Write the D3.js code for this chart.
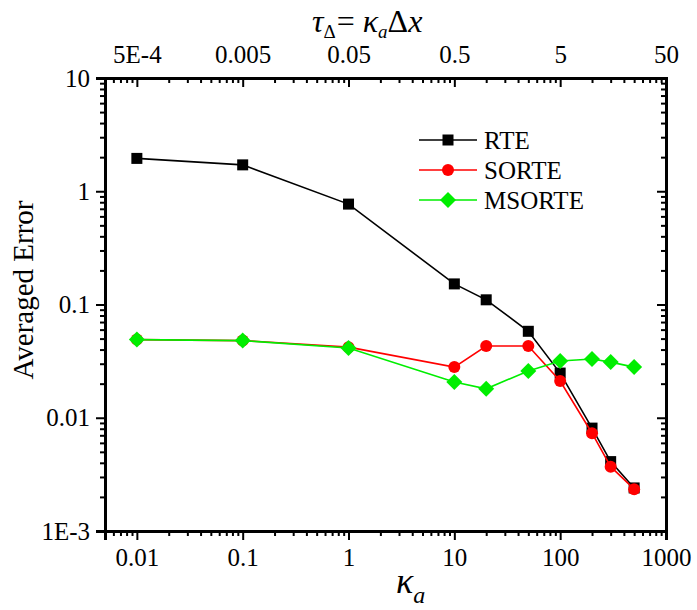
<!DOCTYPE html>
<html>
<head>
<meta charset="utf-8">
<script src="https://cdn.jsdelivr.net/npm/d3@7"></script>
<style>
  html, body { margin: 0; padding: 0; background: #fff; }
  svg, svg text { font-family: "Liberation Serif", "Times New Roman", serif !important; }
</style>
</head>
<body>
<svg id="chart" width="697" height="610"></svg>
<script>
// absorption coefficient values (bottom axis)
const kappa = [0.01, 0.1, 1, 10, 20, 50, 100, 200, 300, 500];
// averaged error for each solver
const rte    = [1.95, 1.71, 0.77, 0.152, 0.11, 0.058, 0.0248, 0.0081, 0.0041, 0.0024];
const sorte  = [0.049, 0.048, 0.042, 0.028, 0.043, 0.043, 0.0211, 0.0073, 0.0037, 0.00234];
const msorte = [0.049, 0.048, 0.0413, 0.0207, 0.018, 0.0259, 0.0317, 0.033, 0.031, 0.028];
// axis tick values and labels
const xMajor = [0.01, 0.1, 1, 10, 100, 1000];
const xLabels = ["0.01", "0.1", "1", "10", "100", "1000"];
const topLabels = ["5E-4", "0.005", "0.05", "0.5", "5", "50"];
const yMajor = [0.001, 0.01, 0.1, 1, 10];
const yLabels = ["1E-3", "0.01", "0.1", "1", "10"];
const seriesNames = ["RTE", "SORTE", "MSORTE"];
const seriesColors = ["#000000", "#ff0000", "#00ee00"];

const svg = d3.select("#chart");
const L = 105, R = 666, T = 78, B = 531;

const x = d3.scaleLog().domain([0.005, 1000]).range([L, R]);
const y = d3.scaleLog().domain([0.001, 10]).range([B, T]);

// minor tick values: 2..9 in each decade inside the domain
function minors(domain) {
  const out = [];
  for (let e = -4; e <= 3; e++) {
    for (let m = 2; m <= 9; m++) {
      const v = m * Math.pow(10, e);
      if (v > domain[0] * 1.0001 && v < domain[1] * 0.9999) out.push(v);
    }
  }
  return out;
}
const xMinor = minors(x.domain());
const yMinor = minors(y.domain());

const fmtMap = (vals, labs) => d => labs[vals.indexOf(d)];

// bottom axis: ticks outward
const gB = svg.append("g").attr("transform", `translate(0,${B})`);
gB.call(d3.axisBottom(x).tickValues(xMinor).tickSize(5).tickFormat(""));
gB.append("g").call(d3.axisBottom(x).tickValues(xMajor).tickSize(9).tickPadding(8).tickFormat(fmtMap(xMajor, xLabels)));
// top axis: ticks inward
const gT = svg.append("g").attr("transform", `translate(0,${T})`);
gT.call(d3.axisTop(x).tickValues(xMinor).tickSize(-5).tickFormat(""));
gT.append("g").call(d3.axisTop(x).tickValues(xMajor).tickSize(-9).tickPadding(15).tickFormat(fmtMap(xMajor, topLabels)));
// left axis: ticks outward
const gL = svg.append("g").attr("transform", `translate(${L},0)`);
gL.call(d3.axisLeft(y).tickValues(yMinor).tickSize(5).tickFormat(""));
gL.append("g").call(d3.axisLeft(y).tickValues(yMajor).tickSize(9).tickPadding(6).tickFormat(fmtMap(yMajor, yLabels)));
// right axis: ticks inward
const gR = svg.append("g").attr("transform", `translate(${R},0)`);
gR.call(d3.axisRight(y).tickValues(yMinor).tickSize(-5).tickFormat(""));
gR.append("g").call(d3.axisRight(y).tickValues(yMajor).tickSize(-9).tickFormat(""));

svg.selectAll(".domain").attr("stroke", "#000").attr("stroke-width", 3);
svg.selectAll(".tick line").attr("stroke", "#000").attr("stroke-width", 2);
svg.selectAll("g").attr("font-family", null);
svg.selectAll(".tick text").attr("font-size", 25).attr("fill", "#000");

// axis titles
svg.append("text")
  .attr("transform", "translate(33,290) rotate(-90)")
  .attr("text-anchor", "middle")
  .attr("font-size", 29)
  .text("Averaged Error");

const bt = svg.append("text").attr("x", 396).attr("y", 593).attr("font-size", 36).attr("font-style", "italic");
bt.append("tspan").text("κ");
bt.append("tspan").attr("font-size", 24).attr("dy", 10).text("a");

const tt = svg.append("text").attr("x", 312).attr("y", 32).attr("font-size", 32);
tt.append("tspan").attr("font-style", "italic").text("τ");
tt.append("tspan").attr("font-size", 19).attr("dy", 6).text("Δ");
tt.append("tspan").attr("dy", -6).attr("dx", 1).text("= ");
tt.append("tspan").attr("font-style", "italic").text("κ");
tt.append("tspan").attr("font-size", 19).attr("font-style", "italic").attr("dy", 6).text("a");
tt.append("tspan").attr("dy", -6).text("Δ");
tt.append("tspan").attr("font-style", "italic").text("x");

// series
const series = [rte, sorte, msorte];
const line = d3.line().x(d => x(d[0])).y(d => y(d[1]));

function drawMarker(g, kind, cx, cy, color) {
  if (kind === 0) {
    g.append("rect").attr("x", cx - 5.5).attr("y", cy - 5.5).attr("width", 11).attr("height", 11).attr("fill", color);
  } else if (kind === 1) {
    g.append("circle").attr("cx", cx).attr("cy", cy).attr("r", 6).attr("fill", color);
  } else {
    g.append("path").attr("d", `M${cx},${cy - 8}L${cx + 8},${cy}L${cx},${cy + 8}L${cx - 8},${cy}Z`).attr("fill", color);
  }
}

series.forEach((vals, i) => {
  const pts = kappa.map((k, j) => [k, vals[j]]);
  const g = svg.append("g");
  g.append("path").attr("d", line(pts)).attr("fill", "none").attr("stroke", seriesColors[i]).attr("stroke-width", 1.6);
  pts.forEach(p => drawMarker(g, i, x(p[0]), y(p[1]), seriesColors[i]));
});

// legend
const legY = [140, 170, 200];
seriesNames.forEach((name, i) => {
  const g = svg.append("g");
  g.append("line").attr("x1", 419).attr("x2", 477).attr("y1", legY[i]).attr("y2", legY[i])
    .attr("stroke", seriesColors[i]).attr("stroke-width", 1.6);
  drawMarker(g, i, 448, legY[i], seriesColors[i]);
  g.append("text").attr("x", 484).attr("y", legY[i]).attr("dy", "0.35em").attr("font-size", 25).text(name);
});
</script>
</body>
</html>
